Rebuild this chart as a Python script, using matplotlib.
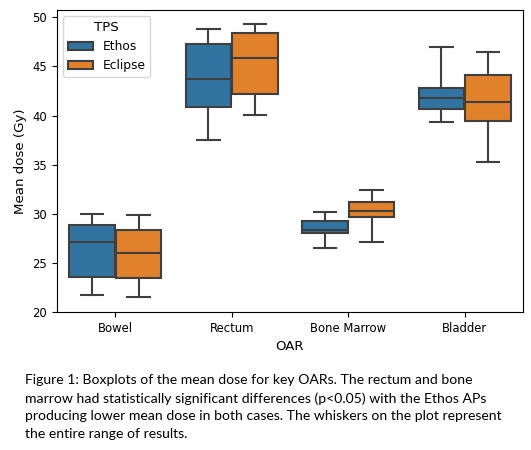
import matplotlib
matplotlib.use("Agg")
import matplotlib.pyplot as plt
from matplotlib.patches import Patch

categories = ["Bowel", "Rectum", "Bone Marrow", "Bladder"]
series = ["Ethos", "Eclipse"]

ethos_min = [21.7, 37.5, 26.5, 39.3]
ethos_q1 = [23.6, 40.9, 28.0, 40.7]
ethos_med = [27.1, 43.7, 28.3, 41.8]
ethos_q3 = [28.9, 47.3, 29.3, 42.8]
ethos_max = [30.0, 48.8, 30.2, 47.0]

eclipse_min = [21.5, 40.1, 27.1, 35.3]
eclipse_q1 = [23.5, 42.2, 29.7, 39.4]
eclipse_med = [26.0, 45.9, 30.3, 41.4]
eclipse_q3 = [28.3, 48.4, 31.2, 44.1]
eclipse_max = [29.9, 49.3, 32.4, 46.5]

y_ticks = [20, 25, 30, 35, 40, 45, 50]

caption = ("Figure 1: Boxplots of the mean dose for key OARs. The rectum and bone\n"
           "marrow had statistically significant differences (p<0.05) with the Ethos APs\n"
           "producing lower mean dose in both cases. The whiskers on the plot represent\n"
           "the entire range of results.")

colors = ["#3274a1", "#e1812c"]
line_color = "#3f3f3f"
fs = 8.4

fig = plt.figure(figsize=(5.31, 4.5), dpi=100)
ax = fig.add_axes([57 / 531, 1 - 312 / 450, (523 - 57) / 531, (312 - 10) / 450])

groups = [
    (ethos_min, ethos_q1, ethos_med, ethos_q3, ethos_max),
    (eclipse_min, eclipse_q1, eclipse_med, eclipse_q3, eclipse_max),
]
w = 0.4 * 0.98
for s, (mn, q1, md, q3, mx) in enumerate(groups):
    stats = []
    for i in range(len(categories)):
        stats.append(dict(whislo=mn[i], q1=q1[i], med=md[i], q3=q3[i], whishi=mx[i], fliers=[]))
    pos = [i + (-0.2 if s == 0 else 0.2) for i in range(len(categories))]
    ax.bxp(stats, positions=pos, widths=w, patch_artist=True, showfliers=False,
           boxprops=dict(facecolor=colors[s], edgecolor=line_color, linewidth=1.5),
           medianprops=dict(color=line_color, linewidth=1.5),
           whiskerprops=dict(color=line_color, linewidth=1.5),
           capprops=dict(color=line_color, linewidth=1.5), capwidths=w / 2,
           manage_ticks=False)

ax.set_xlim(-0.5, 3.5)
ax.set_ylim(20, 50.75)
ax.set_xticks(range(len(categories)))
ax.set_xticklabels(categories, fontsize=fs, family="DejaVu Sans")
ax.set_yticks(y_ticks)
ax.tick_params(labelsize=fs)
ax.set_xlabel("OAR", fontsize=fs * 1.15)
ax.set_ylabel("Mean dose (Gy)", fontsize=fs * 1.15)

handles = [Patch(facecolor=colors[k], edgecolor=line_color, linewidth=1.5, label=series[k]) for k in range(2)]
ax.legend(handles=handles, title="TPS", loc="upper left", fontsize=fs * 1.05, title_fontsize=fs * 1.15)

fig.text(25 / 531, 1 - 374 / 450, caption, fontsize=10.1, family=["Lato", "DejaVu Sans"],
         va="top", ha="left", linespacing=1.58)

fig.savefig("out.png", dpi=100)
